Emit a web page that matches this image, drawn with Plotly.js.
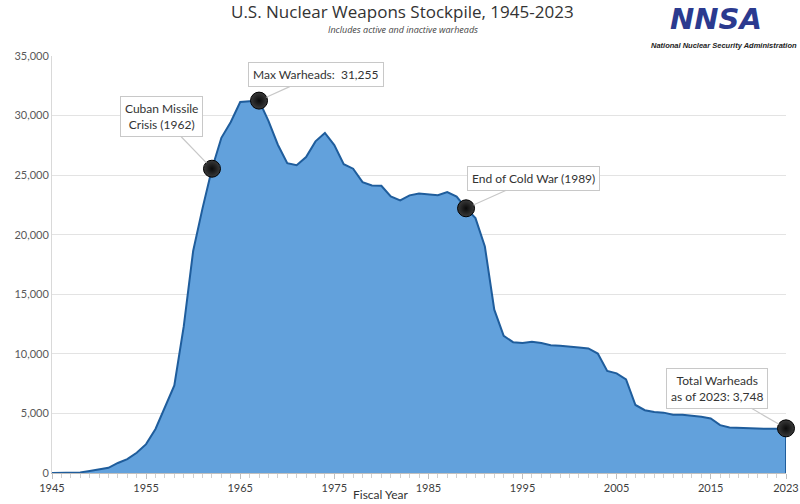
<!DOCTYPE html>
<html>
<head>
<meta charset="utf-8">
<script src="https://cdn.plot.ly/plotly-3.0.1.min.js"></script>
<style>
  html, body { margin: 0; padding: 0; background: #fff; }
  #chart { width: 800px; height: 504px; }
</style>
</head>
<body>
<div id="chart"></div>
<script>
// stockpile by fiscal year
const years = [];
for (let y = 1945; y <= 2023; y++) years.push(y);

const warheads = [
    2, 9, 13, 50, 170, 299, 438, 841, 1169, 1703,
    2422, 3692, 5543, 7345, 12298, 18638, 22229, 25540, 28133, 29463,
    31139, 31175, 31255, 29561, 27552, 26008, 25830, 26516, 27835, 28537,
    27519, 25914, 25542, 24418, 24138, 24104, 23208, 22886, 23305, 23459,
    23368, 23317, 23575, 23205, 22217, 21392, 19008, 13708, 11511, 10979,
    10904, 11011, 10903, 10732, 10685, 10577, 10526, 10457, 10027, 8570,
    8360, 7853, 5709, 5273, 5113, 5066, 4897, 4881, 4804, 4717,
    4571, 4018, 3822, 3785, 3805, 3750, 3708, 3708, 3748
];

const tickYears = [1945, 1955, 1965, 1975, 1985, 1995, 2005, 2015, 2023];
const yTicks = [0, 5000, 10000, 15000, 20000, 25000, 30000, 35000];

// callouts
const eventYears = [1962, 1967, 1989, 2023];
const eventLabels = ['Cuban Missile<br>Crisis (1962)', 'Max Warheads:  31,255', 'End of Cold War (1989)', 'Total Warheads<br>as of 2023: 3,748'];
const eventOffsets = [[-50, -52], [57, -26], [67, -30], [-69, -40]];

const valueAt = yr => warheads[years.indexOf(yr)];
const lastYear = years[years.length - 1];

const data = [{
    x: years, y: warheads,
    type: 'scatter', mode: 'lines',
    fill: 'tozeroy',
    fillcolor: '#62a1dc',
    line: { color: '#1f5d9c', width: 2 },
    hoverinfo: 'x+y'
}, {
    // closing edge at the last year
    x: [lastYear, lastYear], y: [valueAt(lastYear), 0],
    type: 'scatter', mode: 'lines',
    line: { color: '#1f5d9c', width: 2 },
    hoverinfo: 'skip'
}, {
    x: eventYears, y: eventYears.map(valueAt),
    type: 'scatter', mode: 'markers',
    marker: {
        size: 17, color: '#3a3a3a',
        gradient: { type: 'radial', color: '#0a0a0a' },
        line: { color: '#000', width: 1 }
    },
    cliponaxis: false
}];

const annotations = eventYears.map((yr, i) => ({
    x: yr, y: valueAt(yr),
    text: eventLabels[i],
    showarrow: true, arrowhead: 0, arrowwidth: 1.2, arrowcolor: '#c8c8c8',
    ax: eventOffsets[i][0], ay: eventOffsets[i][1],
    standoff: 8,
    bgcolor: '#ffffff', bordercolor: '#c8c8c8', borderwidth: 1, borderpad: 4,
    font: { family: 'Lato, sans-serif', size: 12, color: '#333' }
}));

annotations.push({
    text: 'U.S. Nuclear Weapons Stockpile, 1945-2023',
    xref: 'paper', yref: 'paper', x: 0.478, y: 1.075,
    xanchor: 'center', yanchor: 'bottom', showarrow: false,
    font: { family: 'Open Sans, sans-serif', size: 17, color: '#333' }
}, {
    text: '<i>Includes active and inactive warheads</i>',
    xref: 'paper', yref: 'paper', x: 0.478, y: 1.042,
    xanchor: 'center', yanchor: 'bottom', showarrow: false,
    font: { family: 'Open Sans, sans-serif', size: 9, color: '#444' }
}, {
    text: '<b><i>NNSA</i></b>',
    xref: 'paper', yref: 'paper', x: 0.905, y: 1.088,
    xanchor: 'center', yanchor: 'middle', showarrow: false,
    font: { family: 'DejaVu Sans, sans-serif', size: 29, color: '#2b3a8f' }
}, {
    text: '<b><i>National Nuclear Security Administration</i></b>',
    xref: 'paper', yref: 'paper', x: 0.915, y: 1.024,
    xanchor: 'center', yanchor: 'middle', showarrow: false,
    font: { family: 'Liberation Sans, sans-serif', size: 7.5, color: '#222' }
}, {
    text: 'Fiscal Year',
    xref: 'paper', yref: 'paper', x: 0.447, y: -0.028,
    xanchor: 'center', yanchor: 'top', showarrow: false,
    font: { family: 'Lato, sans-serif', size: 12, color: '#333' }
});

const layout = {
    width: 800, height: 504,
    margin: { l: 52, r: 14, t: 56, b: 31 },
    paper_bgcolor: '#fff', plot_bgcolor: '#fff',
    showlegend: false,
    font: { family: 'Lato, sans-serif', color: '#595959' },
    xaxis: {
        range: [1945, 2023],
        tickvals: tickYears,
        ticks: 'outside', ticklen: 5, tickcolor: '#bfbfbf',
        minor: { dtick: 1, ticks: 'outside', ticklen: 4, tickcolor: '#d0d0d0' },
        showgrid: false, zeroline: false,
        showline: true, linecolor: '#bfbfbf',
        tickfont: { size: 11, color: '#404040' }
    },
    yaxis: {
        range: [0, 35000],
        tickvals: yTicks,
        tickformat: ',d',
        showgrid: true, gridcolor: '#e3e3e3',
        zeroline: false,
        showline: true, linecolor: '#d9d9d9',
        ticks: '',
        tickfont: { size: 11, color: '#595959' }
    },
    annotations: annotations
};

Plotly.newPlot('chart', data, layout, { displayModeBar: false });
</script>
</body>
</html>
